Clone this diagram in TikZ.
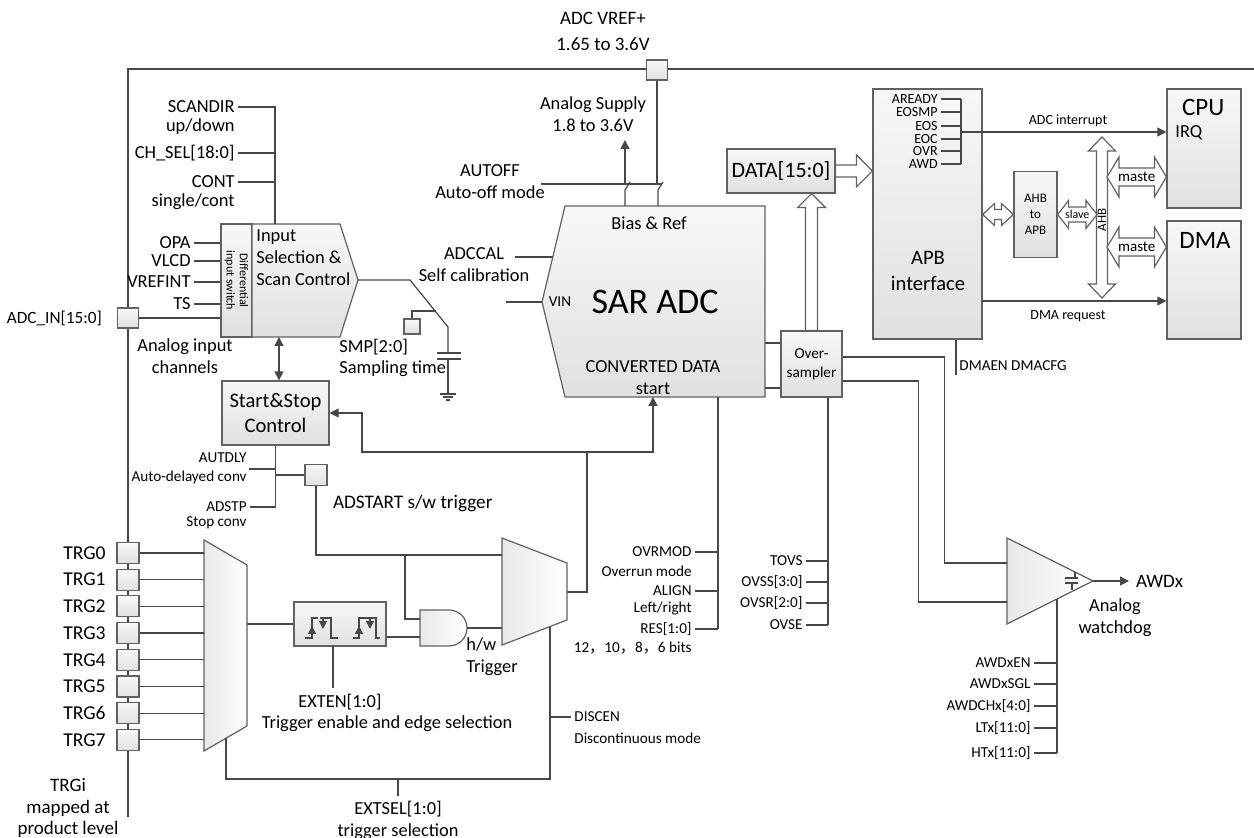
\documentclass[tikz,border=0pt]{standalone}
\usepackage{fontspec}
\setmainfont{Carlito}
\newfontfamily\cjkfont{Noto Sans CJK SC}
\usetikzlibrary{arrows.meta,calc,positioning}
\colorlet{wire}{black!72}
\colorlet{rim}{black!62}
\tikzset{>={Triangle[length=4.5pt,width=4.5pt]}}
\tikzset{
  wires/.style = {draw=wire, line width=0.6pt},
  blk/.style = {draw=rim, line width=0.6pt, top color=black!3, bottom color=black!12, inner sep=0pt},
  gate/.style = {draw=rim, line width=0.6pt, left color=black!9, right color=white},
  pad/.style = {blk, minimum width=11pt, minimum height=10.5pt},
  hollow/.style = {draw=rim, line width=0.6pt, fill=white},
  txs/.style = {font=\fontsize{7.6}{9.5}\selectfont, inner sep=1.5pt},
  txn/.style = {font=\fontsize{9.2}{11}\selectfont, inner sep=1.5pt},
  txm/.style = {font=\fontsize{10.3}{12.5}\selectfont, inner sep=1.5pt}
}
% hollow arrows: #1 tail/left/top, #2 tip/right/bottom, #3 shaft half, #4 head half, #5 head length
\newcommand{\sarrowh}[5]{%
  \draw[hollow] ($(#1)+(0,-#3)$) -- ($(#2)+(-#5,-#3)$) -- ($(#2)+(-#5,-#4)$) -- (#2)
    -- ($(#2)+(-#5,#4)$) -- ($(#2)+(-#5,#3)$) -- ($(#1)+(0,#3)$) -- cycle;}
\newcommand{\sarrowv}[5]{%
  \draw[hollow] ($(#1)+(-#3,0)$) -- ($(#2)+(-#3,#5)$) -- ($(#2)+(-#4,#5)$) -- (#2)
    -- ($(#2)+(#4,#5)$) -- ($(#2)+(#3,#5)$) -- ($(#1)+(#3,0)$) -- cycle;}
\newcommand{\darrowh}[5]{%
  \draw[hollow] (#1) -- ($(#1)+(#5,-#4)$) -- ($(#1)+(#5,-#3)$) -- ($(#2)+(-#5,-#3)$) -- ($(#2)+(-#5,-#4)$) -- (#2)
    -- ($(#2)+(-#5,#4)$) -- ($(#2)+(-#5,#3)$) -- ($(#1)+(#5,#3)$) -- ($(#1)+(#5,#4)$) -- cycle;}
\newcommand{\darrowv}[5]{%
  \draw[hollow] (#1) -- ($(#1)+(#4,#5)$) -- ($(#1)+(#3,#5)$) -- ($(#2)+(#3,-#5)$) -- ($(#2)+(#4,-#5)$) -- (#2)
    -- ($(#2)+(-#4,-#5)$) -- ($(#2)+(-#3,-#5)$) -- ($(#1)+(-#3,#5)$) -- ($(#1)+(-#4,#5)$) -- cycle;}

\begin{document}
\begin{tikzpicture}[x=0.5pt,y=-0.5pt]
  \useasboundingbox (0,0) rectangle (1254,838);
  % frame
  \draw[wires] (1254,69) -- (128,69) -- (128,817);
  \node[pad, minimum width=10.5pt, minimum height=10pt] (vref) at (657,70) {};
  \node[font=\fontsize{9.5}{13}\selectfont, align=center] (vreflbl) at (603,31) {ADC VREF+\\1.65 to 3.6V};

  % SAR ADC
  \path[blk] (565,206) -- (765,206) -- (765,397) -- (565,397) -- (542,302) -- cycle;
  \coordinate (sarvin) at (542,302);
  \coordinate (sarcal) at (553,257);
  \coordinate (sarstart) at (653,397);
  \coordinate (sarctl) at (718,397);
  \coordinate (sarsup) at (625,206);
  \coordinate (sarref) at (658,206);
  \node[txn] (bias) at (649,223) {Bias \& Ref};
  \node[txs] (vin) at (560,302) {VIN};
  \node[font=\fontsize{18}{20}\selectfont] (sar) at (655,302) {SAR ADC};
  \node[txn, align=center] (conv) at (653,378) {CONVERTED DATA\\start};

  % supply, reference, auto-off
  \node[txn, align=center] (supply) at (593,114) {Analog Supply\\1.8 to 3.6V};
  \draw[wires] (sarsup) -- ++(0,-16) -- ++(5,-8);
  \draw[wires,->] (sarsup) ++(0,-22) -- ++(0,-44);
  \draw[wires] (vref.south) -- (vref.south |- 0,184);
  \draw[wires] (sarref) -- ++(0,-16) -- ++(5,-8);
  \node[txn, align=center] (autoff) at (490,182) {AUTOFF\\Auto-off mode};
  \coordinate (autoffend) at (662,184);
  \draw[wires] (autoffend -| 541,0) -- (autoffend);
  \node[txn, align=center] (adccal) at (474,265) {ADCCAL\\Self calibration};
  \draw[wires] (sarcal) -- ++(-38,0);
  \draw[wires] (sarvin) -- ++(-36,0);

  % input selection
  \node[blk, minimum width=15.5pt, minimum height=56.5pt] (diff) at (236.5,280.5) {};
  \node[font=\fontsize{6}{6.6}\selectfont, rotate=-90, align=center] at (diff.center) {Differential\\input switch};
  \path[blk] (252,224) -- (340,224) -- (358,280) -- (340,337) -- (252,337) -- cycle;
  \coordinate (seltip) at (358,280);
  \coordinate (selctl) at (275,224);
  \coordinate (selbot) at (279,337);
  \node[txn, anchor=west, align=left] (seltxt) at (253,258) {Input\\Selection \&\\Scan Control};
  \node[txn, anchor=east] (scandir) at (238,107) {SCANDIR};
  \node[txn, anchor=east] at (238,127) {up/down};
  \node[txn, anchor=east] (chsel) at (238,153) {CH\_SEL[18:0]};
  \node[txn, anchor=east] (cont) at (238,182) {CONT};
  \node[txn, anchor=east] at (238,202) {single/cont};
  \draw[wires] (scandir.east) -| (selctl);
  \draw[wires] (chsel.east) -- (chsel.east -| selctl);
  \draw[wires] (cont.east) -- (cont.east -| selctl);
  \foreach \n/\t/\y in {opa/OPA/243, vlcd/VLCD/261, vrefint/VREFINT/282, ts/TS/304} {
    \node[txn, anchor=east] (\n) at (194,\y) {\t};
    \draw[wires] (\n.east) -- (\n.east -| diff.west);
  }
  \node[pad, minimum width=10.5pt, minimum height=10pt] (adcin) at (128,318) {};
  \node[font=\fontsize{8.6}{10}\selectfont, anchor=east] at (109,318) {ADC\_IN[15:0]};
  \draw[wires] (adcin) -- (adcin -| diff.west);
  \node[txn, align=center] at (185,356) {Analog input\\channels};

  % sampling
  \node[pad, minimum width=8pt, minimum height=7.5pt] (smp) at (412,326.5) {};
  \draw[wires] (seltip) -- (410,280) -- (448,327) -- (448,353);
  \draw[wires] (smp.north) |- (436,311);
  \draw[wires] (437,353) -- (461,353) (437,359) -- (461,359);
  \draw[wires] (448,359) -- (448,394);
  \draw[wires] (440,394) -- (456,394) (443,397) -- (453,397) (446,400) -- (450,400);
  \node[txn, anchor=west] at (336,347) {SMP[2:0]};
  \node[txn, anchor=west] at (336,369) {Sampling time};

  % start & stop control
  \node[blk, txm, minimum width=53.5pt, minimum height=32pt, align=center] (ssc) at (275.5,413) {Start\&Stop\\Control};
  \draw[wires,<->] (selbot) -- (selbot |- ssc.north);
  \node[txs, anchor=east] at (250,458) {AUTDLY};
  \node[txs, anchor=east] at (250,477) {Auto-delayed conv};
  \node[txs, anchor=east] (adstp) at (250,507) {ADSTP};
  \node[txs, anchor=east] at (250,523) {Stop conv};
  \coordinate (autdly) at (249,469);
  \draw[wires] (ssc.south) |- (adstp.east);
  \draw[wires] (autdly) -- (autdly -| ssc.south);
  \node[pad] (adstart) at (316,475) {};
  \draw[wires] (ssc.south |- adstart) -- (adstart);
  \node[font=\fontsize{9.6}{11}\selectfont, anchor=west] at (326,503) {ADSTART s/w trigger};

  % trigger inputs
  \path[gate] (204,540) -- (247,565) -- (247,726) -- (204,751) -- cycle;
  \coordinate (mux1in) at (204,540);
  \coordinate (mux1out) at (247,624);
  \coordinate (mux1sel) at (226,738);
  \foreach \i in {0,...,7} {
    \node[pad] (trg\i) at (128,{553+26.7*\i}) {};
    \node[font=\fontsize{9.8}{12}\selectfont, inner sep=1.5pt, anchor=east] at (109,{553+26.7*\i}) {TRG\i};
    \draw[wires] (trg\i) -- (trg\i -| mux1in);
  }
  \node[font=\fontsize{9.5}{10.8}\selectfont, align=center] at (68,808) {TRGi\\mapped at\\product level};

  % edge selection
  \node[blk, minimum width=46pt, minimum height=22pt] (edge) at (340,624) {};
  \draw[wires] (mux1out) -- (edge.west);
  \draw[wires] (305,638) -- (312,638) -- (312,618) -- (318,618);
  \draw[wires,-{Triangle[length=4pt,width=4pt]}] (312,638) -- (312,626);
  \draw[wires] (320,618) -- (331,618) -- (331,638) -- (338,638);
  \draw[wires,-{Triangle[length=4pt,width=4pt]}] (323,618) -- (323,629);
  \draw[wires] (353,638) -- (359,638) -- (359,618) -- (376,618) -- (376,638) -- (380,638);
  \draw[wires,-{Triangle[length=4pt,width=4pt]}] (359,638) -- (359,626);
  \draw[wires,-{Triangle[length=4pt,width=4pt]}] (370,618) -- (370,629);
  \draw[wires] (333,646) -- (333,688);
  \node[txn] at (340,702) {EXTEN[1:0]};
  \node[txn] at (387,724) {Trigger enable and edge selection};

  % and gate, hw/sw mux
  \path[gate] (420,610) -- (449,610) arc[start angle=-90, end angle=90, radius=18] -- (420,646) -- cycle;
  \coordinate (andA) at (420,619);
  \coordinate (andB) at (420,637);
  \coordinate (andout) at (467,628);
  \path[gate] (502,538) -- (567,563) -- (567,620) -- (502,645) -- cycle;
  \coordinate (mux2a) at (502,555);
  \coordinate (mux2b) at (502,628);
  \coordinate (mux2out) at (567,592);
  \coordinate (mux2sel) at (550,627);
  \coordinate (swbr) at (405,555);
  \draw[wires] (adstart) |- (mux2a);
  \draw[wires] (swbr) |- (andA);
  \draw[wires] (edge.east |- andB) -- (andB);
  \draw[wires] (andout) -- (mux2b);
  \node[txn, anchor=west, align=left] at (463,657) {h/w\\Trigger};
  \coordinate (trigbr) at (587,452);
  \coordinate (ssturn) at (362,452);
  \draw[wires] (mux2out) -| (trigbr);
  \draw[wires,->] (trigbr) -- (ssturn) |- (ssc.east);
  \draw[wires,->] (trigbr) -| (sarstart);

  % trigger selection, discontinuous mode
  \coordinate (extsel) at (398,779);
  \draw[wires] (mux2sel) |- (extsel) -| (mux1sel);
  \draw[wires] (extsel) -- ++(0,17);
  \node[txn, align=center] at (398,820) {EXTSEL[1:0]\\trigger selection};
  \coordinate (discenpt) at (550,717);
  \node[txs, anchor=west] (discen) at (571,717) {DISCEN};
  \node[txs, anchor=west] at (571,738) {Discontinuous mode};
  \draw[wires] (discenpt) -- (discen.west);

  % SAR control bits
  \draw[wires] (sarctl) -- (718,629);
  \foreach \n/\t/\y in {ovrmod/OVRMOD/552, alignbit/ALIGN/591, resbit/RES[1:0]/629} {
    \node[txs, anchor=east] (\n) at (695,\y) {\t};
    \draw[wires] (\n.east) -- (\n.east -| sarctl);
  }
  \node[txs, anchor=east] at (695,571) {Overrun mode};
  \node[txs, anchor=east] at (695,609) {Left/right};
  \node[txs, anchor=east] at (695,648) {12{\cjkfont ，}10{\cjkfont ，}8{\cjkfont ，}6 bits};

  % oversampler
  \node[blk, txs, minimum width=30.5pt, minimum height=33pt, align=center] (ovs) at (811.5,364) {Over-\\sampler};
  \coordinate (sarr1) at (765,343);
  \coordinate (sarr2) at (765,388);
  \draw[wires] (sarr1) -- (sarr1 -| ovs.west);
  \draw[wires] (sarr2) -- (sarr2 -| ovs.west);
  \draw[wires] (ovs.south -| 828,0) -- (828,625);
  \foreach \n/\t/\y in {tovs/TOVS/561, ovss/OVSS[3:0]/582, ovsr/OVSR[2:0]/603, ovse/OVSE/625} {
    \node[txs, anchor=east] (\n) at (806,\y) {\t};
    \draw[wires] (\n.east) -- (\n.east -| 828,0);
  }

  % data register
  \node[blk, font=\fontsize{11}{13}\selectfont, minimum width=54pt, minimum height=22pt] (data) at (781,171) {DATA[15:0]};
  \coordinate (datain) at (ovs.north |- data.south);
  \sarrowv{ovs.north}{datain}{6}{14}{14}

  % APB interface
  \node[blk, minimum width=54.5pt, minimum height=125pt] (apb) at (927.5,214) {};
  \node[txm, align=center, font=\fontsize{10.3}{13}\selectfont] at (928,271) {APB\\interface};
  \coordinate (apbdata) at (apb.west |- data.east);
  \sarrowh{data.east}{apbdata}{6}{16}{16}
  \foreach \f/\y in {AREADY/99, EOSMP/112, EOS/126, EOC/139, OVR/151, AWD/164} {
    \node[font=\fontsize{7}{8}\selectfont, anchor=east, inner sep=1.5pt] (\f) at (941,\y) {\f};
    \draw[wires] (\f.east) -- (961,\y);
  }
  \draw[wires] (961,99) -- (961,164);
  \coordinate (irqsrc) at (961,132);
  \draw[wires] (apb.south -| 956,0) -- ++(0,35);
  \node[txs, anchor=west, inner sep=1pt] at (957,366) {DMAEN DMACFG};

  % CPU, DMA, bus
  \node[blk, minimum width=37pt, minimum height=59.5pt] (cpu) at (1204,148.5) {};
  \node[font=\fontsize{12.5}{14}\selectfont, anchor=west] at (1175,107) {CPU};
  \node[txn, anchor=west] at (1172,133) {IRQ};
  \node[blk, minimum width=37pt, minimum height=59pt] (dma) at (1204,280) {};
  \node[font=\fontsize{12.5}{14}\selectfont] at (1205,240) {DMA};
  \draw[wires,->] (irqsrc) -- (irqsrc -| cpu.west);
  \node[font=\fontsize{7}{8}\selectfont] at (1068,121) {ADC interrupt};
  \coordinate (dmareq) at (982,301);
  \draw[wires,->] (dmareq) -- (dmareq -| dma.west);
  \node[font=\fontsize{7}{8}\selectfont] at (1068,316) {DMA request};
  \node[blk, font=\fontsize{6.5}{8}\selectfont, align=center, minimum width=21.5pt, minimum height=43pt] (ahb2apb) at (1035.5,214.5) {AHB\\to\\APB};
  \coordinate (apbahb) at (apb.east |- ahb2apb.west);
  \darrowh{apbahb}{ahb2apb.west}{5}{11}{12}
  \coordinate (ahbtop) at (1102,137);
  \coordinate (ahbbot) at (1102,298);
  \darrowv{ahbtop}{ahbbot}{5.5}{13.5}{14}
  \node[font=\fontsize{6.5}{7}\selectfont, rotate=90] at (1102,220) {AHB};
  \coordinate (ahbslave) at (1097,214.5);
  \darrowh{ahb2apb.east}{ahbslave}{7.5}{14}{11}
  \node[font=\fontsize{6}{7}\selectfont, inner sep=0pt] at ($(ahb2apb.east)!0.5!(ahbslave)$) {slave};
  \coordinate (cpuml) at (1107,177);
  \coordinate (cpumr) at (cpu.west |- cpuml);
  \darrowh{cpuml}{cpumr}{9}{20}{12}
  \node[font=\fontsize{7.5}{8}\selectfont, inner sep=0pt] at ($(cpuml)!0.5!(cpumr)$) {maste};
  \coordinate (dmaml) at (1107,247);
  \coordinate (dmamr) at (dma.west |- dmaml);
  \darrowh{dmaml}{dmamr}{9}{20}{12}
  \node[font=\fontsize{7.5}{8}\selectfont, inner sep=0pt] at ($(dmaml)!0.5!(dmamr)$) {maste};

  % analog watchdog
  \path[gate] (1007,538) -- (1093,581) -- (1007,624) -- cycle;
  \coordinate (cmpA) at (1007,563);
  \coordinate (cmpB) at (1007,602);
  \coordinate (cmpout) at (1093,581);
  \coordinate (cmpctl) at (1057,599);
  \draw[wires] (1065,578) -- (1078,578) (1065,583) -- (1078,583) (1075,572) -- (1075,578) (1072,583) -- (1072,590);
  \draw[wires] ($(ovs.east)+(0,-7)$) -- ++(102,0) |- (cmpA);
  \draw[wires] ($(ovs.east)+(0,17)$) -- ++(76,0) |- (cmpB);
  \node[font=\fontsize{9.5}{11}\selectfont, anchor=west] (awdx) at (1129,581) {AWDx};
  \draw[wires,->] (cmpout) -- (awdx.west);
  \node[txn, align=center] at (1115,618) {Analog\\watchdog};
  \foreach \t/\y [count=\k] in {AWDxEN/663, AWDxSGL/684, AWDCHx[4:0]/706, LTx[11:0]/728, HTx[11:0]/753} {
    \node[txs, anchor=east] (awd\k) at (1034,\y) {\t};
    \draw[wires] (awd\k.east) -- (awd\k.east -| cmpctl);
  }
  \draw[wires] (cmpctl) -- (cmpctl |- awd5.east);
\end{tikzpicture}
\end{document}
